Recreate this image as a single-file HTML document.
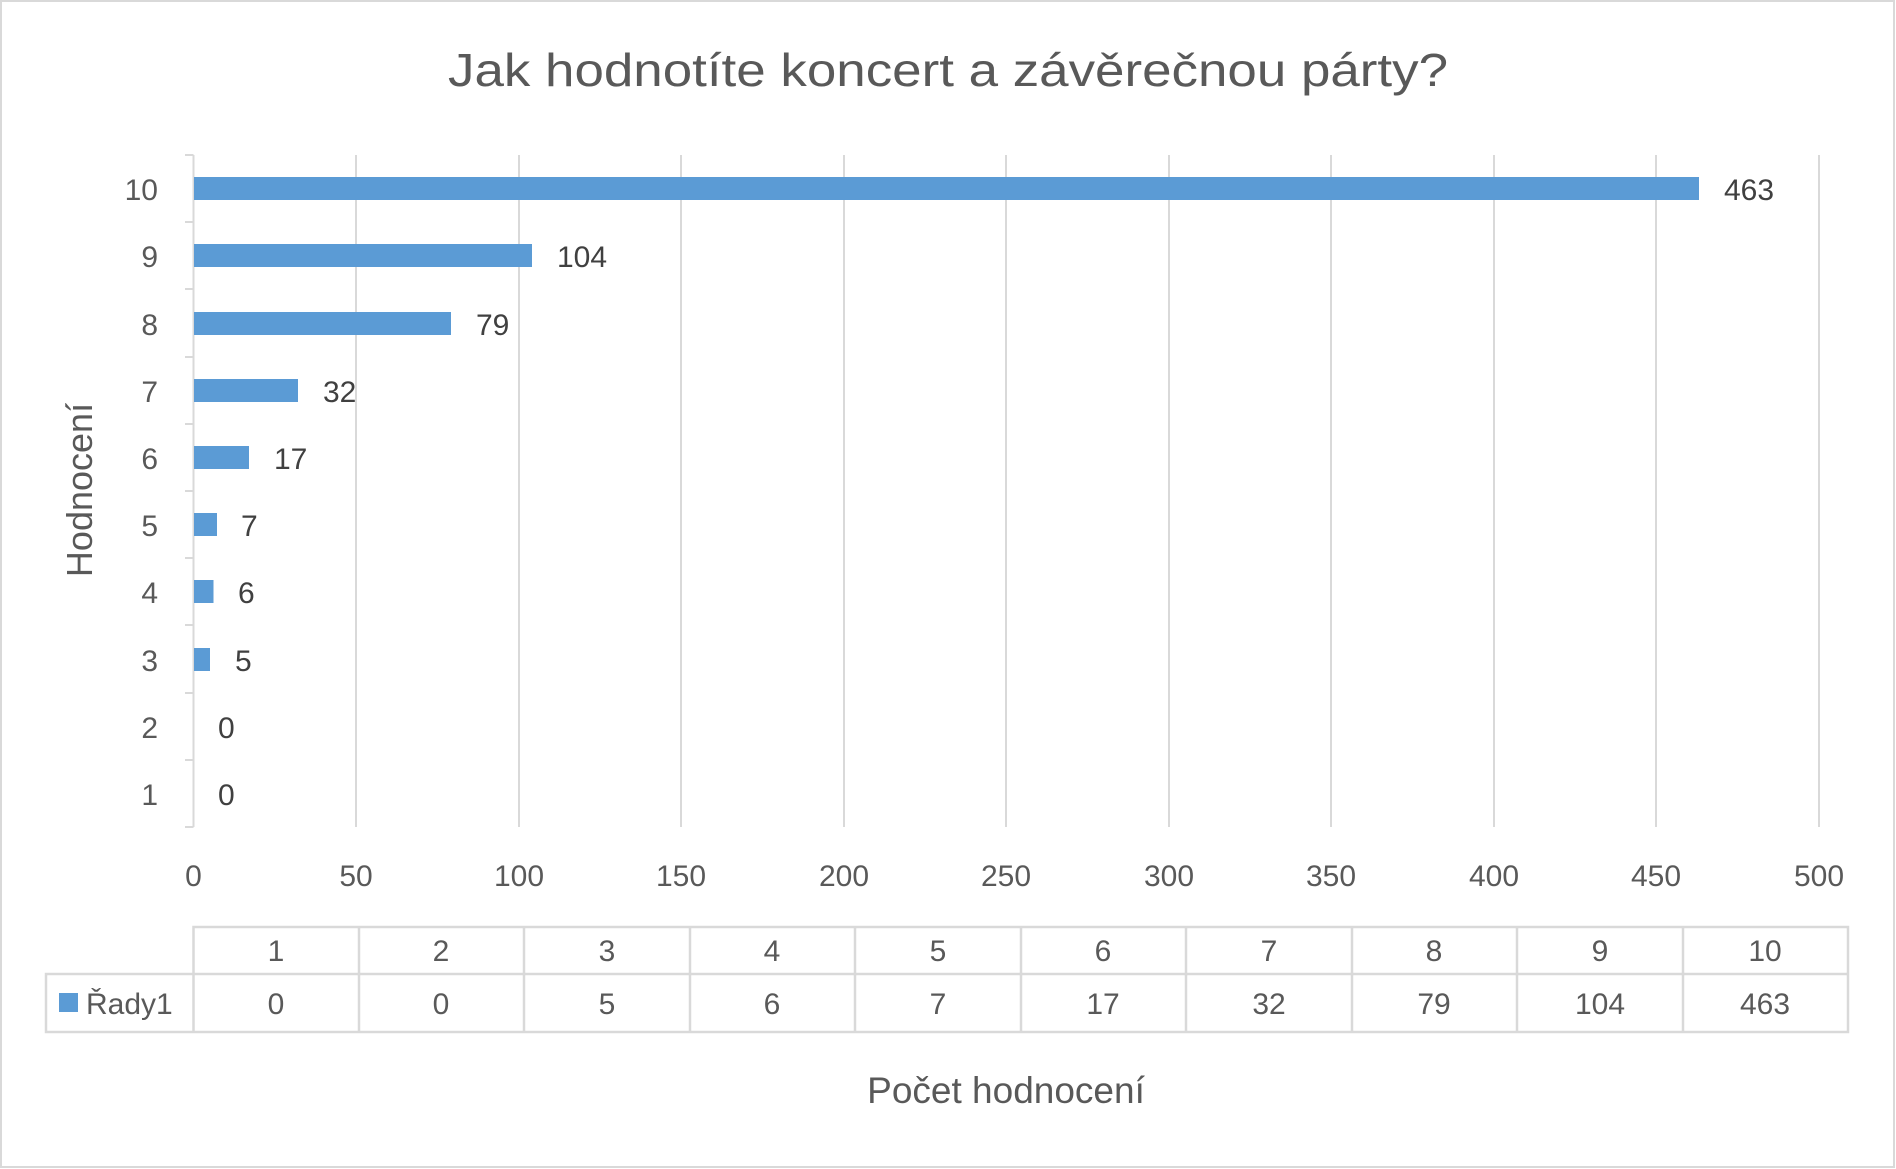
<!DOCTYPE html>
<html><head><meta charset="utf-8"><style>
html,body{margin:0;padding:0;background:#fff;}
svg{display:block;font-family:"Liberation Sans",sans-serif;}
</style></head><body>
<svg width="1896" height="1169" viewBox="0 0 1896 1169" xmlns="http://www.w3.org/2000/svg">
<rect x="1" y="1" width="1893" height="1166" fill="#fff" stroke="#D9D9D9" stroke-width="2"/>
<text x="948" y="86" text-anchor="middle" font-size="46" fill="#595959" textLength="1000" lengthAdjust="spacingAndGlyphs">Jak hodnotíte koncert a závěrečnou párty?</text>
<g stroke="#D9D9D9" stroke-width="2">
<line x1="356" y1="155" x2="356" y2="827"/><line x1="519" y1="155" x2="519" y2="827"/>
<line x1="681" y1="155" x2="681" y2="827"/><line x1="844" y1="155" x2="844" y2="827"/>
<line x1="1006" y1="155" x2="1006" y2="827"/><line x1="1169" y1="155" x2="1169" y2="827"/>
<line x1="1331" y1="155" x2="1331" y2="827"/><line x1="1494" y1="155" x2="1494" y2="827"/>
<line x1="1656" y1="155" x2="1656" y2="827"/><line x1="1819" y1="155" x2="1819" y2="827"/>
<line x1="193.5" y1="155" x2="193.5" y2="827"/>
<line x1="185" y1="155" x2="193.5" y2="155"/><line x1="185" y1="222" x2="193.5" y2="222"/>
<line x1="185" y1="289" x2="193.5" y2="289"/><line x1="185" y1="357" x2="193.5" y2="357"/>
<line x1="185" y1="424" x2="193.5" y2="424"/><line x1="185" y1="491" x2="193.5" y2="491"/>
<line x1="185" y1="558" x2="193.5" y2="558"/><line x1="185" y1="625" x2="193.5" y2="625"/>
<line x1="185" y1="693" x2="193.5" y2="693"/><line x1="185" y1="760" x2="193.5" y2="760"/>
<line x1="185" y1="827" x2="193.5" y2="827"/>
</g>
<g fill="#5B9BD5">
<rect x="194" y="177" width="1505" height="23"/>
<rect x="194" y="244" width="338" height="23"/>
<rect x="194" y="312" width="257" height="23"/>
<rect x="194" y="379" width="104" height="23"/>
<rect x="194" y="446" width="55" height="23"/>
<rect x="194" y="513" width="23" height="23"/>
<rect x="194" y="580" width="19.5" height="23"/>
<rect x="194" y="648" width="16" height="23"/>
</g>
<g font-size="30" fill="#404040">
<text x="1724" y="200">463</text><text x="557" y="267">104</text>
<text x="476" y="335">79</text><text x="323" y="402">32</text>
<text x="274" y="469">17</text><text x="241" y="536">7</text>
<text x="238" y="603">6</text><text x="235" y="671">5</text>
<text x="218" y="738">0</text><text x="218" y="805">0</text>
</g>
<g font-size="30" fill="#595959" text-anchor="end">
<text x="158" y="200">10</text><text x="158" y="267">9</text><text x="158" y="335">8</text>
<text x="158" y="402">7</text><text x="158" y="469">6</text><text x="158" y="536">5</text>
<text x="158" y="603">4</text><text x="158" y="671">3</text><text x="158" y="738">2</text>
<text x="158" y="805">1</text>
</g>
<g font-size="30" fill="#595959" text-anchor="middle">
<text x="193.5" y="886">0</text><text x="356" y="886">50</text><text x="519" y="886">100</text>
<text x="681" y="886">150</text><text x="844" y="886">200</text><text x="1006" y="886">250</text>
<text x="1169" y="886">300</text><text x="1331" y="886">350</text><text x="1494" y="886">400</text>
<text x="1656" y="886">450</text><text x="1819" y="886">500</text>
</g>
<text transform="translate(92,490) rotate(-90)" text-anchor="middle" font-size="36" fill="#595959">Hodnocení</text>
<text x="1006" y="1103" text-anchor="middle" font-size="37" fill="#595959">Počet hodnocení</text>
<g stroke="#D9D9D9" stroke-width="2.5" fill="none">
<polyline points="193.5,1032 193.5,927 1848,927 1848,1032 46,1032 46,974 1848,974"/>
<line x1="359" y1="927" x2="359" y2="1032"/><line x1="524" y1="927" x2="524" y2="1032"/>
<line x1="690" y1="927" x2="690" y2="1032"/><line x1="855" y1="927" x2="855" y2="1032"/>
<line x1="1021" y1="927" x2="1021" y2="1032"/><line x1="1186" y1="927" x2="1186" y2="1032"/>
<line x1="1352" y1="927" x2="1352" y2="1032"/><line x1="1517" y1="927" x2="1517" y2="1032"/>
<line x1="1683" y1="927" x2="1683" y2="1032"/>
</g>
<rect x="59" y="993" width="19" height="19" fill="#5B9BD5"/>
<text x="86" y="1014" font-size="30" fill="#595959">Řady1</text>
<g font-size="30" fill="#595959" text-anchor="middle">
<text x="276" y="961">1</text><text x="441" y="961">2</text><text x="607" y="961">3</text>
<text x="772" y="961">4</text><text x="938" y="961">5</text><text x="1103" y="961">6</text>
<text x="1269" y="961">7</text><text x="1434" y="961">8</text><text x="1600" y="961">9</text>
<text x="1765" y="961">10</text>
<text x="276" y="1014">0</text><text x="441" y="1014">0</text><text x="607" y="1014">5</text>
<text x="772" y="1014">6</text><text x="938" y="1014">7</text><text x="1103" y="1014">17</text>
<text x="1269" y="1014">32</text><text x="1434" y="1014">79</text><text x="1600" y="1014">104</text>
<text x="1765" y="1014">463</text>
</g>
</svg>
</body></html>
